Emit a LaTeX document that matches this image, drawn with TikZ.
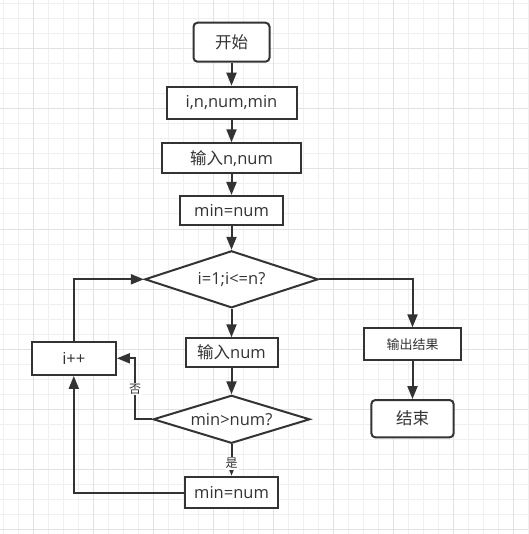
\documentclass[tikz,border=0pt]{standalone}
\usepackage{fontspec}
\setmainfont{Open Sans}
\newfontfamily\cjk{Noto Sans CJK SC}
\usetikzlibrary{arrows.meta, shapes.geometric}
\definecolor{fcLine}{HTML}{333333}
\definecolor{fcGrid}{HTML}{F0F0F0}
\definecolor{fcGridMajor}{HTML}{E2E2E2}

\begin{document}
\begin{tikzpicture}[x=1pt, y=-1pt,
  gridline/.style={draw=fcGrid, line width=1pt},
  gridmajor/.style={draw=fcGridMajor, line width=1pt},
  proc/.style={draw=fcLine, line width=2pt, fill=white, text=fcLine, inner sep=0pt,
               font=\fontsize{16.5}{20}\selectfont},
  term/.style={proc, rounded corners=4pt, font=\cjk\fontsize{16.5}{20}\selectfont},
  cond/.style={proc, diamond, aspect=4},
  arr/.style={draw=fcLine, line width=2pt, -{Triangle[length=13pt, width=10pt]}},
  lbl/.style={fill=white, inner sep=1pt, text=fcLine, font=\cjk\fontsize{12}{14}\selectfont},
]
  \useasboundingbox (0,0) rectangle (528,534);
  \fill[white] (0,0) rectangle (528,534);

  % grid
  \foreach \k in {0,...,35} {
    \draw[gridline] ({3.3+15*\k},0) -- ++(0,534);
    \draw[gridline] (0,{4+15*\k}) -- ++(528,0);
  }
  \foreach \k in {0,...,8} {
    \draw[gridmajor] ({33.3+60*\k},0) -- ++(0,534);
    \draw[gridmajor] (0,{49+60*\k}) -- ++(528,0);
  }

  % main column
  \node[term, minimum width=76pt, minimum height=39pt] (start) at (231.5,42.2) {开始};
  \node[proc, minimum width=130pt, minimum height=32.6pt] (vars) at (231.5,103) {i,n,num,min};
  \node[proc, minimum width=139pt, minimum height=30pt] (input) at (231.5,158.3) {{\cjk 输入}n,num};
  \node[proc, minimum width=102.6pt, minimum height=29pt] (init) at (231.5,210.5) {min=num};
  \node[cond, minimum width=173.3pt, minimum height=57pt] (loop) at (231.5,279.3) {i=1;i<=n?};
  \node[proc, minimum width=92pt, minimum height=28.4pt] (read) at (231.5,352.5) {{\cjk 输入}num};
  \node[cond, minimum width=156.7pt, minimum height=48pt] (cmp) at (231.5,419.3) {min>num?};
  \node[proc, minimum width=93.4pt, minimum height=31.6pt] (assign) at (231.5,492.5) {min=num};

  % loop counter
  \node[proc, minimum width=84.3pt, minimum height=33.3pt] (inc) at (73.8,358.3) {i++};

  % output
  \node[proc, minimum width=96.7pt, minimum height=31.7pt, font=\cjk\fontsize{13}{16}\selectfont] (out) at (412.5,344.2) {输出结果};
  \node[term, minimum width=82.3pt, minimum height=37.3pt] (stop) at (412.5,418.7) {结束};

  % connectors
  \draw[arr] (start) -- (vars);
  \draw[arr] (vars) -- (input);
  \draw[arr] (input) -- (init);
  \draw[arr] (init) -- (loop);
  \draw[arr] (loop) -- (read);
  \draw[arr] (read) -- (cmp);
  \draw[arr] (cmp.south) -- node[lbl, pos=0.61] (yes) {是} (assign.north);
  \coordinate (nobend) at (135,419.3);
  \draw[arr] (cmp.west) -- (nobend) |- (inc.east);
  \node[lbl] (no) at (135,389) {否};
  \draw[arr] (assign.west) -| (inc.south);
  \draw[arr] (inc.north) |- (loop.west);
  \draw[arr] (loop.east) -| (out.north);
  \draw[arr] (out) -- (stop);
\end{tikzpicture}
\end{document}
